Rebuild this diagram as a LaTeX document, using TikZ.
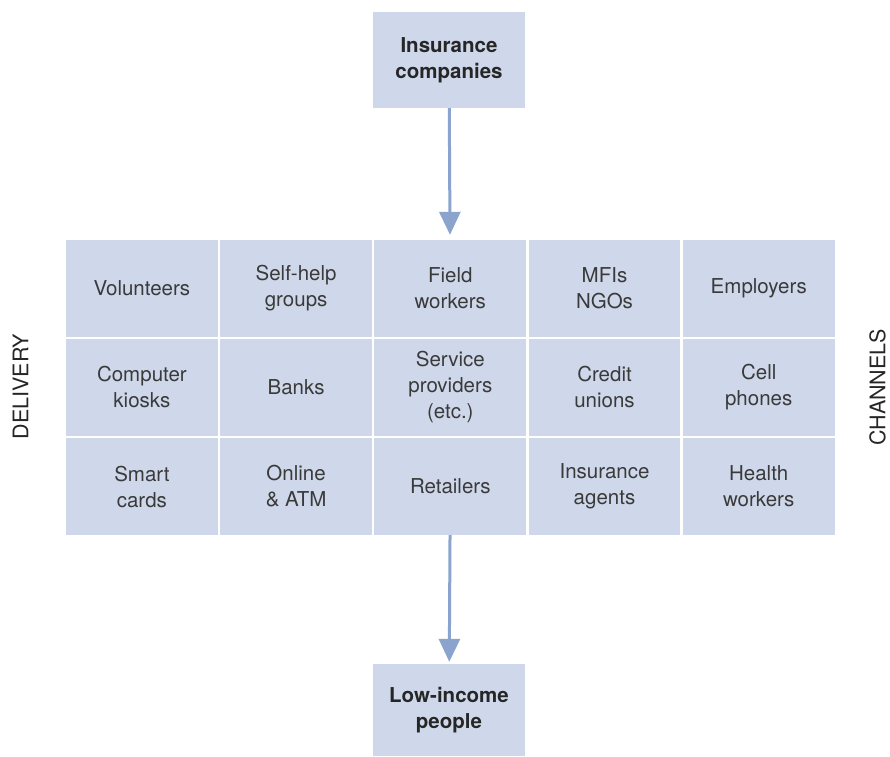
\documentclass[tikz,border=0pt]{standalone}
\usepackage{fontspec}
\setmainfont{TeX Gyre Heros}
\usepackage{tikz}
\usetikzlibrary{arrows.meta}
\usetikzlibrary{positioning}
\definecolor{cellblue}{RGB}{207,216,234}
\definecolor{flowblue}{RGB}{138,164,206}
\definecolor{textgray}{RGB}{58,58,58}
\tikzset{
    cell/.style={
           rectangle,
           fill=cellblue,
           inner sep=0pt,
           minimum width=151.8pt,
           minimum height=96.7pt,
           align=center,
           text=textgray,
           font=\fontsize{20.5}{26}\selectfont,
           },
}
\tikzset{
    endbox/.style={
           rectangle,
           fill=cellblue,
           inner sep=0pt,
           minimum width=152pt,
           align=center,
           text=black!85,
           font=\fontsize{20.5}{26}\selectfont\bfseries,
           },
}
\tikzset{
    flow/.style={
           draw=flowblue,
           line width=3pt,
           -{Triangle[width=21pt,length=23pt]},
           },
}
\tikzset{
    side/.style={
           rotate=90,
           inner sep=0pt,
           text=black!85,
           font=\fontsize{21.5}{24}\selectfont,
           },
}

\begin{document}
\begin{tikzpicture}[x=1pt,y=1pt]
\useasboundingbox (0,0) rectangle (890,-756);
\node[endbox,minimum height=96pt] (ins) at (449,-60) {Insurance\\companies};
% first row
\node[cell] (vol) at (141.9,-288.35) {Volunteers};
\node[cell,right = 2pt of vol] (shg) {Self-help\\groups};
\node[cell,right = 2pt of shg] (fw) {Field\\workers};
\node[cell,right = 2pt of fw] (mfi) {MFIs\\NGOs};
\node[cell,right = 2pt of mfi] (emp) {Employers};
% second row
\node[cell,below = 2pt of vol] (kio) {Computer\\kiosks};
\node[cell,right = 2pt of kio] (bank) {Banks};
\node[cell,right = 2pt of bank] (serv) {Service\\providers\\(etc.)};
\node[cell,right = 2pt of serv] (cu) {Credit\\unions};
\node[cell,right = 2pt of cu] (cell) {Cell\\phones};
% third row
\node[cell,below = 2pt of kio] (sc) {Smart\\cards};
\node[cell,right = 2pt of sc] (atm) {Online\\\& ATM};
\node[cell,right = 2pt of atm] (ret) {Retailers};
\node[cell,right = 2pt of ret] (ia) {Insurance\\agents};
\node[cell,right = 2pt of ia] (hw) {Health\\workers};
\node[endbox,minimum height=92pt] (low) at (449,-710) {Low-income\\people};
\node[side] (del) at (20.5,-386.5) {DELIVERY};
\node[side] (chan) at (877.5,-387.5) {CHANNELS};
\draw[flow,shorten >=5pt] (ins) -- (fw);
\draw[flow,shorten >=2pt] (ret) -- (low);
\end{tikzpicture}
\end{document}
